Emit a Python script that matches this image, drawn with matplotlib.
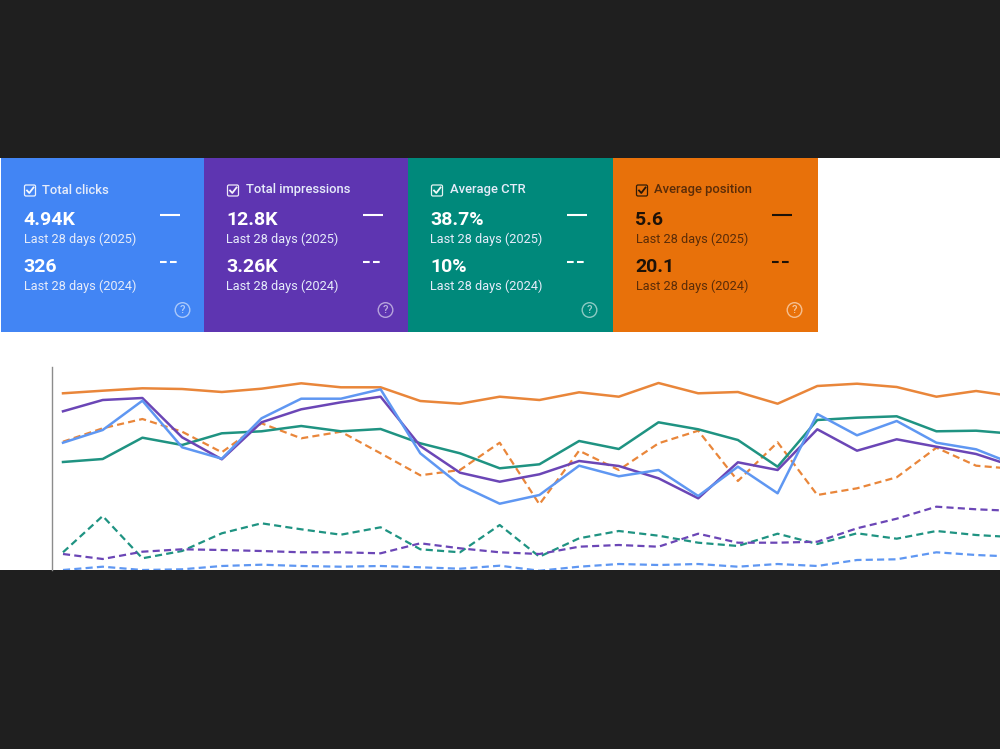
import matplotlib
matplotlib.use("Agg")
import numpy as np
import matplotlib.pyplot as plt
from matplotlib.patches import Rectangle, FancyBboxPatch, Circle

plt.rcParams['font.family'] = ['Roboto', 'DejaVu Sans']

# card texts
titles = ["Total clicks", "Total impressions", "Average CTR", "Average position"]
values_2025 = ["4.94K", "12.8K", "38.7%", "5.6"]
values_2024 = ["326", "3.26K", "10%", "20.1"]
label_2025 = "Last 28 days (2025)"
label_2024 = "Last 28 days (2024)"

# daily series, height above the bottom of the plot
clicks_2025 = [127.3, 140, 169.3, 122.7, 111.3, 151.7, 171.3, 171.3, 180.7, 116.7, 85, 66.3, 75,
               104.3, 93.7, 100, 74, 103.3, 76.7, 156, 134.7, 149, 127.3, 120.7, 105]
clicks_2024 = [0, 3.3, 0, 0.7, 4, 5.3, 4, 3.3, 4, 2.7, 1.3, 4.3, -0.7,
               3.3, 6, 5, 6, 3.3, 6, 4, 10, 10.7, 17.7, 15, 13.3]
impressions_2025 = [158.7, 170, 172, 132.7, 110.7, 147.7, 160.7, 167.7, 173.3, 124, 97.3, 88.3, 95.7,
                    109, 104, 91.7, 71.7, 107.7, 100, 140.7, 119.3, 130.7, 123.3, 116, 103]
impressions_2024 = [16, 11, 18.3, 20.7, 20, 19, 17.7, 17.7, 16.7, 26.7, 21.7, 17.7, 16,
                    23.3, 25, 23.3, 36.3, 27.3, 27.3, 28.3, 41.7, 51.3, 63.3, 60.7, 59]
ctr_2025 = [108, 111, 132.3, 125, 136.7, 138.7, 144, 138.7, 141, 126.7, 116.7, 101.7, 105.7,
            129, 121, 147.7, 140.7, 130, 103.3, 150, 152.3, 153.7, 138.7, 139.3, 136]
ctr_2024 = [17.7, 54, 11.7, 19, 36.7, 46.7, 40.7, 35.3, 42.7, 20.7, 17.7, 45, 13.3,
            31.7, 39, 34.3, 27.3, 24, 36.3, 26, 36.7, 31.3, 39, 35, 32.7]
position_2025 = [176.7, 179.3, 181.7, 181, 178, 181.3, 186.7, 182.7, 182.7, 169, 166.3, 173.3, 170,
                 177.7, 173.3, 187, 176.7, 178, 166.3, 184, 186.3, 183, 173.3, 179, 173.3]
position_2024 = [128.3, 141.7, 151, 138.3, 117.7, 146.7, 131.7, 138.3, 116.7, 94.7, 100, 127.3, 65.7,
                 119.3, 100, 126.7, 139.3, 89, 127.7, 75, 81.7, 92.7, 122.3, 104.3, 101]

dark = "#1f1f1f"
card_colors = ["#4285f4", "#5e35b1", "#00897b", "#e8710a"]
card_left = [1, 204, 408, 613]
card_right = [204, 408, 613, 818]
line_blue = "#5f97f2"
line_purple = "#6b46b6"
line_teal = "#1f9382"
line_orange = "#e9863a"

fig = plt.figure(figsize=(10, 7.49), dpi=100, facecolor="white")

# page layer in pixel units
bg = fig.add_axes([0, 0, 1, 1])
bg.set_xlim(0, 1000)
bg.set_ylim(749, 0)
bg.axis("off")
bg.add_patch(Rectangle((0, 0), 1000, 158, color=dark, lw=0))
bg.add_patch(Rectangle((0, 570), 1000, 179, color=dark, lw=0))

for i in range(4):
    x0 = card_left[i]
    fg = "#1d1208" if i == 3 else "white"
    sub = "#5a2c08" if i == 3 else "#e6ecfa"
    bg.add_patch(Rectangle((x0, 158), card_right[i] - x0, 174, color=card_colors[i], lw=0))

    # checkbox
    bx = x0 + 22.5
    bg.add_patch(FancyBboxPatch((bx + 1, 185), 11, 11, boxstyle="round,pad=0,rounding_size=1.5",
                                fc="none", ec=fg, lw=0.9, alpha=0.9))
    bg.plot([bx + 3.5, bx + 5.8, bx + 10], [190.5, 193, 187.5], color=fg, lw=1.3, alpha=0.95)

    bg.text(x0 + 41.5, 190, titles[i], color=sub, fontsize=9.4, va="center", ha="left", fontweight="medium")
    bg.text(x0 + 22.5, 220, values_2025[i], color=fg, fontsize=14, va="center", ha="left", fontweight="bold")
    bg.text(x0 + 22.5, 239.5, label_2025, color=sub, fontsize=9.2, va="center", ha="left")
    bg.text(x0 + 22.5, 267, values_2024[i], color=fg, fontsize=14, va="center", ha="left", fontweight="bold")
    bg.text(x0 + 22.5, 286.5, label_2024, color=sub, fontsize=9.2, va="center", ha="left")

    # legend samples
    bg.plot([x0 + 158.5, x0 + 178.5], [215, 215], color=fg, lw=1.5, solid_capstyle="butt")
    bg.plot([x0 + 158.5, x0 + 178.5], [262, 262], color=fg, lw=1.5, dashes=(3.2, 1.6))

    # help icon
    bg.add_patch(Circle((x0 + 181.5, 310), 7.3, fc="none", ec=fg if i < 3 else "white", lw=1, alpha=0.55))
    bg.text(x0 + 181.5, 310, "?", color=fg if i < 3 else "white", fontsize=8, alpha=0.6,
            va="center", ha="center", fontweight="medium")

# line chart
ax = fig.add_axes([0.052, (749 - 570) / 749, 0.948, 203 / 749])
ax.patch.set_alpha(0)
days = np.arange(len(clicks_2025))
ax.set_xlim((52 - 63) / 39.7, (1000 - 63) / 39.7)
ax.set_ylim(0, 203)
ax.set_xticks([])
ax.set_yticks([])
for s in ["top", "right", "bottom"]:
    ax.spines[s].set_visible(False)
ax.spines["left"].set_color("#8c8c8c")
ax.spines["left"].set_linewidth(1)

dash = (3.2, 1.9)
ax.plot(days, clicks_2024, color=line_blue, lw=1.6, dashes=dash)
ax.plot(days, ctr_2024, color=line_teal, lw=1.6, dashes=dash)
ax.plot(days, impressions_2024, color=line_purple, lw=1.6, dashes=dash)
ax.plot(days, position_2024, color=line_orange, lw=1.6, dashes=dash)
ax.plot(days, position_2025, color=line_orange, lw=1.8)
ax.plot(days, ctr_2025, color=line_teal, lw=1.8)
ax.plot(days, impressions_2025, color=line_purple, lw=1.8)
ax.plot(days, clicks_2025, color=line_blue, lw=1.8)

plt.savefig("out.png", dpi=100)
